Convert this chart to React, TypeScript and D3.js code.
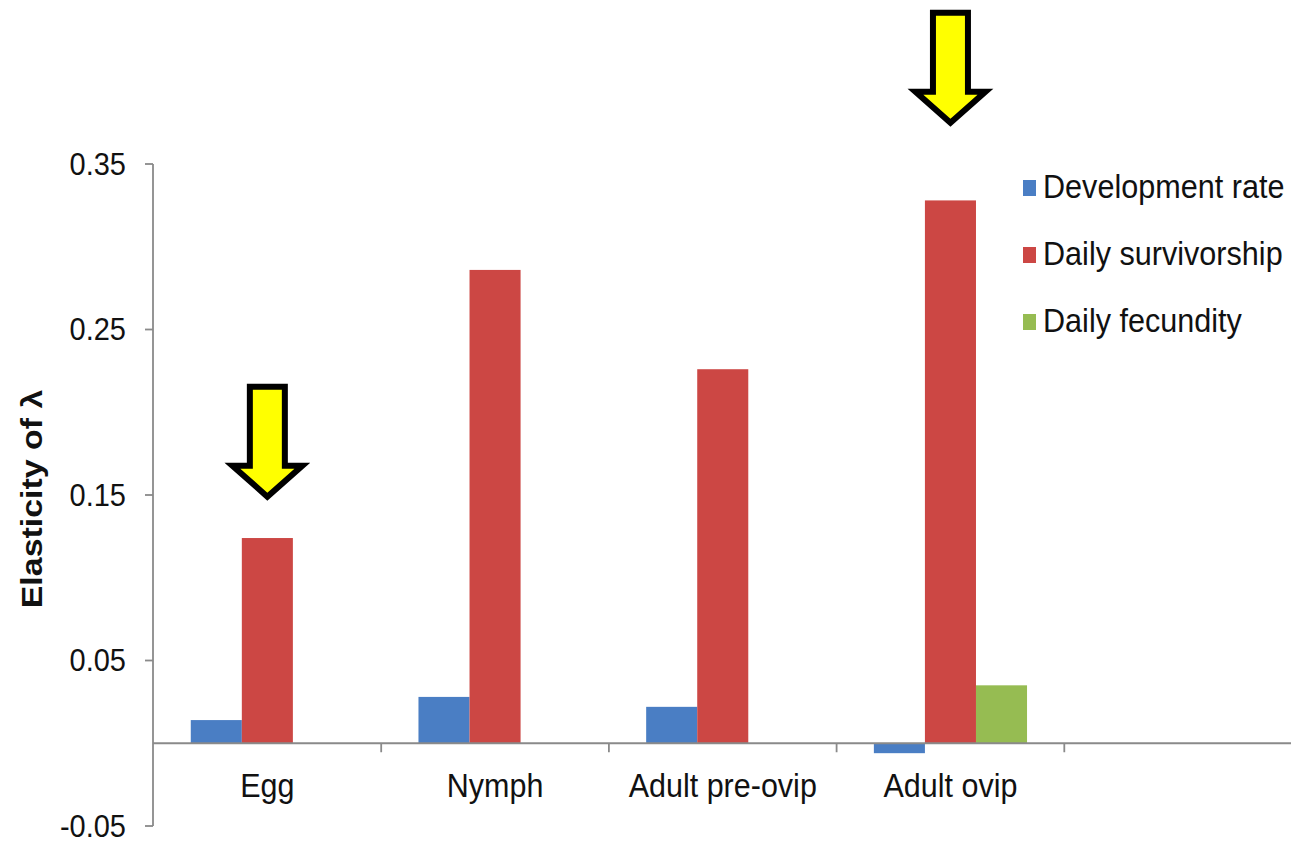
import React from "react";
import * as d3 from "d3";

const categories = ["Egg", "Nymph", "Adult pre-ovip", "Adult ovip"];
const emptySlot = " ";
const seriesNames = ["Development rate", "Daily survivorship", "Daily fecundity"];
const developmentRate = [0.014, 0.028, 0.022, -0.006];
const dailySurvivorship = [0.124, 0.286, 0.226, 0.328];
const dailyFecundity = [0, 0, 0, 0.035];
const seriesColors = ["#4A7EC4", "#CC4744", "#96BC52"];
const yTicks = [-0.05, 0.05, 0.15, 0.25, 0.35];
const yTickLabels = ["-0.05", "0.05", "0.15", "0.25", "0.35"];
const arrowCategories = ["Egg", "Adult ovip"];
const arrowTipValues = [0.149, 0.375];

const W = 1291;
const H = 842;
const FONT = "'Liberation Sans', Arial, Helvetica, sans-serif";
const STRETCH = 1.11;

export default function App() {
  const x = d3
    .scaleBand<string>()
    .domain([...categories, emptySlot])
    .range([153.5, 1292])
    .paddingInner(0)
    .paddingOuter(0);
  const inner = d3
    .scaleBand<string>()
    .domain(seriesNames)
    .range([0, x.bandwidth()])
    .paddingInner(0)
    .paddingOuter(0.73);
  const y = d3.scaleLinear().domain([-0.05, 0.35]).range([826, 164]);
  const seriesValues = [developmentRate, dailySurvivorship, dailyFecundity];
  const axisColor = "#8a8a8a";
  const x0 = 153;
  const y0 = y(0);
  const boundaries = [...categories, emptySlot].map((c) => (x(c) as number) + x.bandwidth());

  const arrowPath = (() => {
    const hw = 17.5, hh = 35, L = 110, hl = 31;
    return `M${-hw},${-L} L${hw},${-L} L${hw},${-hl} L${hh},${-hl} L0,0 L${-hh},${-hl} L${-hw},${-hl} Z`;
  })();

  return (
    <svg
      width={W}
      height={H}
      style={{ position: "absolute", left: 0, top: 0, background: "#fff" }}
      fontFamily={FONT}
    >
      <rect x={0} y={0} width={W} height={H} fill="#ffffff" />
      {/* bars */}
      {seriesValues.map((vals, si) =>
        vals.map((v, ci) => {
          if (v === 0) return null;
          const bx = (x(categories[ci]) as number) + (inner(seriesNames[si]) as number);
          const top = Math.min(y(v), y0);
          const h = Math.abs(y(v) - y0);
          return (
            <rect
              key={`${si}-${ci}`}
              x={bx}
              y={top}
              width={inner.bandwidth()}
              height={h}
              fill={seriesColors[si]}
            />
          );
        })
      )}
      {/* y axis */}
      <line x1={x0} x2={x0} y1={y(0.35)} y2={y(-0.05)} stroke={axisColor} strokeWidth={1.8} />
      {yTicks.map((t, i) => (
        <g key={t}>
          <line x1={x0 - 8} x2={x0} y1={y(t)} y2={y(t)} stroke={axisColor} strokeWidth={1.8} />
          <g transform={`translate(126,${y(t)}) scale(1,${STRETCH})`}>
            <text textAnchor="end" dy="0.34em" fontSize={29} fill="#111">
              {yTickLabels[i]}
            </text>
          </g>
        </g>
      ))}
      {/* x axis */}
      <line x1={x0} x2={1291} y1={y0} y2={y0} stroke={axisColor} strokeWidth={1.8} />
      {boundaries.map((b, i) => (
        <line key={i} x1={b} x2={b} y1={y0} y2={y0 + 9} stroke={axisColor} strokeWidth={1.8} />
      ))}
      {categories.map((c) => (
        <g key={c} transform={`translate(${(x(c) as number) + x.bandwidth() / 2},797) scale(1,${STRETCH})`}>
          <text textAnchor="middle" fontSize={30.5} fill="#111">
            {c}
          </text>
        </g>
      ))}
      {/* y title */}
      <g transform={`translate(42,499) rotate(-90) scale(${STRETCH + 0.02},1)`}>
        <text textAnchor="middle" fontSize={30} fontWeight="bold" fill="#111">
          Elasticity of λ
        </text>
      </g>
      {/* legend */}
      {seriesNames.map((s, i) => {
        const base = 198 + i * 67;
        return (
          <g key={s}>
            <rect x={1023} y={base - 18} width={13} height={16} fill={seriesColors[i]} />
            <g transform={`translate(1043,${base}) scale(1,${STRETCH})`}>
              <text fontSize={30.6} fill="#111">
                {s}
              </text>
            </g>
          </g>
        );
      })}
      {/* arrows */}
      {arrowCategories.map((c, i) => (
        <path
          key={c}
          d={arrowPath}
          transform={`translate(${(x(c) as number) + x.bandwidth() / 2},${y(arrowTipValues[i])})`}
          fill="#FFFF00"
          stroke="#000"
          strokeWidth={6}
          strokeLinejoin="miter"
        />
      ))}
    </svg>
  );
}
